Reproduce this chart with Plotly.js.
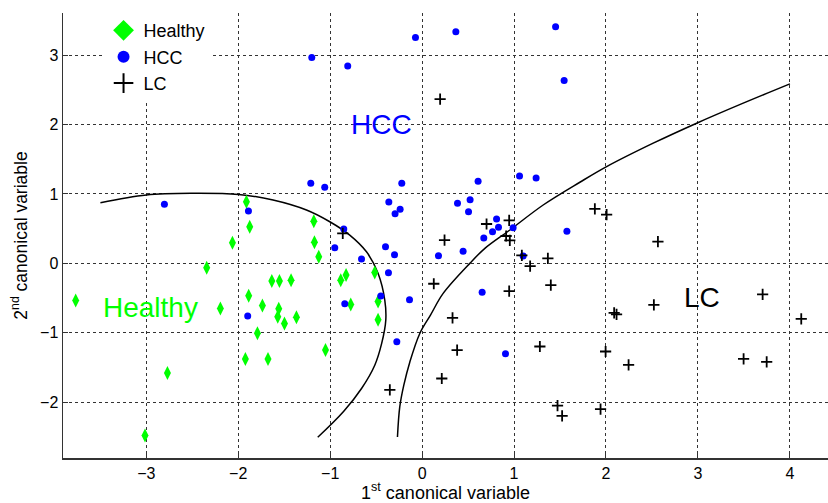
<!DOCTYPE html>
<html>
<head>
<meta charset="utf-8">
<script src="https://cdn.plot.ly/plotly-3.0.1.min.js"></script>
<style>html,body{margin:0;padding:0;background:#fff;}#chart{width:828px;height:503px;}</style>
</head>
<body>
<div id="chart"></div>
<script>
// Healthy group (1st, 2nd canonical variable)
const healthyX = [-3.768,-2.770,-3.014,-2.343,-2.194,-2.063,-1.911,-1.875,-1.886,-1.791,-1.922,-1.178,-1.171,-1.124,-1.635,-1.552,-1.425,-1.737,-1.559,-1.570,-1.497,-1.367,-1.676,-1.051,-0.885,-0.827,-0.515,-0.776,-0.479,-0.479];
const healthyY = [-0.534,-1.579,-2.482,-0.063,-0.649,0.297,0.889,0.528,-0.468,-1.006,-1.377,0.606,0.303,0.095,-0.255,-0.255,-0.245,-0.606,-0.655,-0.771,-0.866,-0.775,-1.377,-1.247,-0.245,-0.169,-0.130,-0.592,-0.548,-0.814];

// HCC group
const hccX = [-1.200,-0.809,-0.072,0.367,1.452,1.545,-1.211,-1.059,-0.221,-0.362,-0.239,-0.294,-1.889,-2.803,-0.852,-0.950,-0.398,-0.300,-0.659,-0.366,-0.449,-0.137,-0.841,-1.897,-0.275,0.609,1.060,1.240,0.385,0.522,0.505,0.810,0.831,0.766,0.990,0.671,0.446,0.178,1.575,0.653,0.907,1.099];
const hccY = [2.967,2.843,3.255,3.337,3.409,2.635,1.154,1.097,1.154,0.884,0.779,0.716,0.755,0.851,0.495,0.225,0.240,0.124,0.062,-0.136,-0.472,-0.525,-0.583,-0.760,-1.131,1.183,1.260,1.231,0.866,0.918,0.745,0.639,0.519,0.456,0.514,0.365,0.173,0.110,0.462,-0.418,-1.304,0.105];

// LC group
const lcX = [0.196,-0.863,-0.351,0.701,0.947,0.244,0.914,0.954,1.085,1.175,1.368,0.127,1.400,0.947,0.331,0.381,1.281,0.214,1.473,1.523,1.941,2.565,2.521,2.089,2.115,1.996,2.246,3.704,4.124,3.497,3.748,1.879,2.007];
const lcY = [2.367,0.433,-1.824,0.567,0.620,0.336,0.394,0.332,0.115,-0.039,0.072,-0.294,-0.313,-0.400,-0.785,-1.251,-1.198,-1.659,-2.049,-2.199,-2.102,0.312,-0.597,-0.713,-0.736,-1.270,-1.463,-0.447,-0.799,-1.377,-1.420,0.784,0.701];

// Decision boundaries
const boundary1X = [-3.499,-2.999,-2.492,-1.995,-1.621,-1.258,-1.004,-0.787,-0.605,-0.479,-0.406,-0.395,-0.439,-0.515,-0.657,-0.852,-1.135];
const boundary1Y = [0.874,0.986,1.010,0.993,0.913,0.769,0.600,0.408,0.167,-0.144,-0.530,-0.818,-1.150,-1.468,-1.800,-2.132,-2.507];
const boundary2X = [-0.268,-0.243,-0.199,-0.134,-0.025,0.091,0.229,0.519,0.683,0.955,1.317,1.716,2.007,2.514,2.986,3.493,4.001];
const boundary2Y = [-2.502,-2.069,-1.756,-1.424,-1.010,-0.746,-0.433,0.000,0.216,0.481,0.841,1.169,1.394,1.732,2.020,2.309,2.587];

const xTicks = [-3,-2,-1,0,1,2,3,4];
const yTicks = [-2,-1,0,1,2,3];
const seriesNames = ['Healthy','HCC','LC'];

const FONT = 'Liberation Sans, Arial, Helvetica, sans-serif';
const GREEN = '#00ff00', BLUE = '#0000ff', BLACK = '#000000';

const traces = [
  {x: boundary1X, y: boundary1Y, mode:'lines', line:{color:BLACK, width:1.5, shape:'spline'}, showlegend:false, hoverinfo:'skip'},
  {x: boundary2X, y: boundary2Y, mode:'lines', line:{color:BLACK, width:1.5, shape:'spline'}, showlegend:false, hoverinfo:'skip'},
  {x: healthyX, y: healthyY, mode:'markers', name: seriesNames[0], showlegend:false,
   marker:{symbol:'diamond-tall', size:10, color:GREEN, line:{width:0}}},
  {x: hccX, y: hccY, mode:'markers', name: seriesNames[1], showlegend:false,
   marker:{symbol:'circle', size:7, color:BLUE, line:{width:0}}},
  {x: lcX, y: lcY, mode:'markers', name: seriesNames[2], showlegend:false,
   marker:{symbol:'cross-thin', size:8, color:BLACK, line:{width:1.8, color:BLACK}}},
  // legend entries (larger symbols as in the original legend)
  {x:[null], y:[null], mode:'markers', name: seriesNames[0], marker:{symbol:'diamond', size:16, color:GREEN, line:{width:0}}},
  {x:[null], y:[null], mode:'markers', name: seriesNames[1], marker:{symbol:'circle', size:12, color:BLUE, line:{width:0}}},
  {x:[null], y:[null], mode:'markers', name: seriesNames[2], marker:{symbol:'cross-thin', size:14, color:BLACK, line:{width:2, color:BLACK}}}
];

const layout = {
  width: 828, height: 503,
  margin: {l:63, r:0, t:13, b:45},
  paper_bgcolor:'#ffffff', plot_bgcolor:'#ffffff',
  font:{family:FONT, color:BLACK, size:16},
  showlegend: true,
  legend: {x:0.053, y:1.002, xanchor:'left', yanchor:'top', bgcolor:'#ffffff', borderwidth:0,
           font:{family:FONT, size:18, color:BLACK}, tracegroupgap:0},
  xaxis: {range:[-3.906, 4.415], tickvals:xTicks, ticktext:xTicks.map(v=>v<0?'\u2212'+Math.abs(v):String(v)),
          showgrid:true, gridcolor:'#333', griddash:'dot', gridwidth:1,
          zeroline:false, showline:true, linecolor:'#333', linewidth:1.5,
          ticks:'inside', ticklen:5, tickcolor:'#333', tickfont:{size:16, family:FONT},
          title:{text:'1<sup>st</sup> canonical variable', font:{size:18, family:FONT}, standoff:5}},
  yaxis: {range:[-2.805, 3.608], tickvals:yTicks, ticktext:yTicks.map(v=>v<0?'\u2212'+Math.abs(v):String(v)),
          showgrid:true, gridcolor:'#333', griddash:'dot', gridwidth:1,
          zeroline:false, showline:true, linecolor:'#333', linewidth:1.5,
          ticks:'inside', ticklen:5, tickcolor:'#333', tickfont:{size:16, family:FONT},
          title:{text:'2<sup>nd</sup> canonical variable', font:{size:17.5, family:FONT}, standoff:8}},
  annotations: [
    {x:-0.439, y:2.007, xref:'x', yref:'y', text:'HCC', showarrow:false, font:{size:28, color:BLUE, family:FONT}},
    {x:-2.958, y:-0.631, xref:'x', yref:'y', text:'Healthy', showarrow:false, font:{size:28, color:GREEN, family:FONT}},
    {x:3.049, y:-0.494, xref:'x', yref:'y', text:'LC', showarrow:false, font:{size:28, color:BLACK, family:FONT}}
  ]
};

Plotly.newPlot('chart', traces, layout, {displayModeBar:false, staticPlot:true});
</script>
</body>
</html>
